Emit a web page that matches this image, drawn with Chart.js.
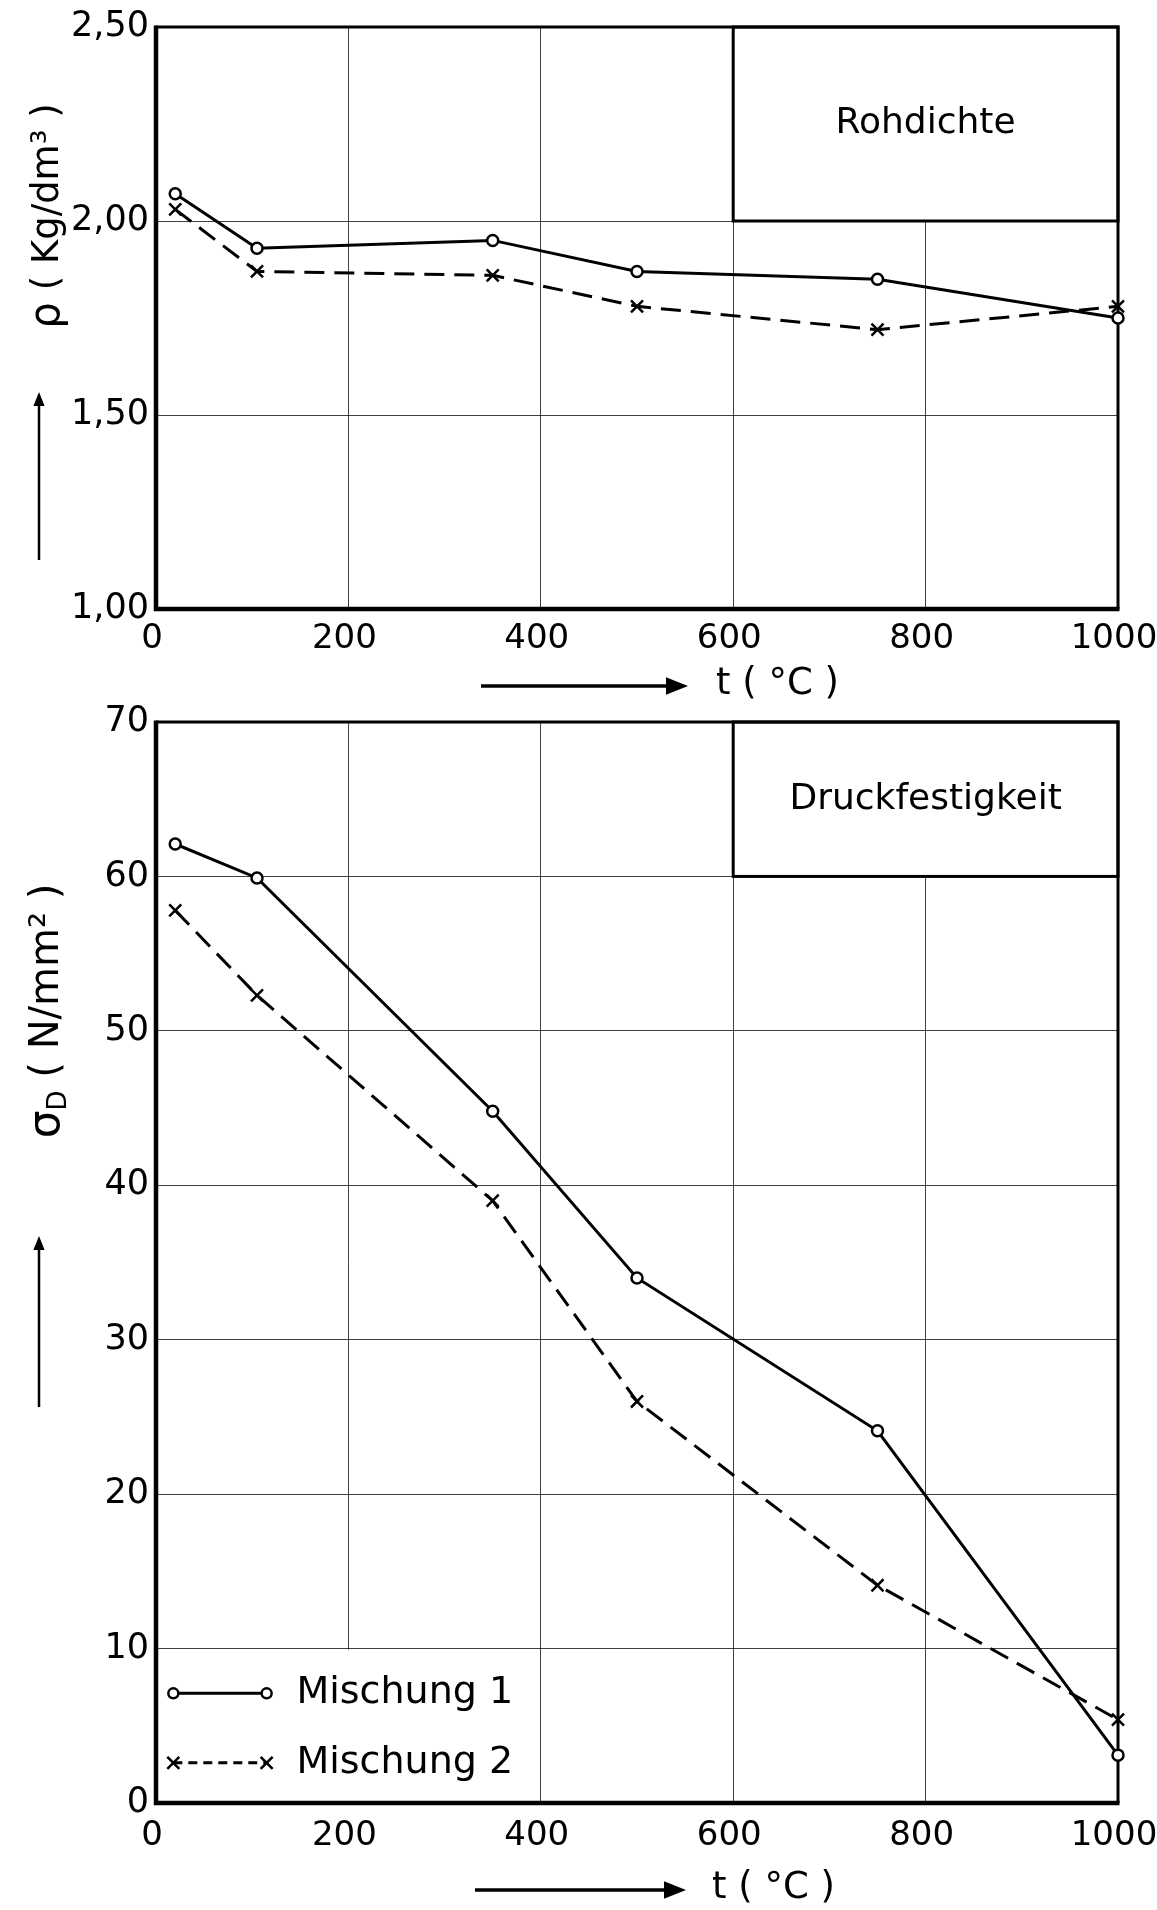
<!DOCTYPE html>
<html>
<head>
<meta charset="utf-8">
<title>Rohdichte und Druckfestigkeit</title>
<script src="https://cdn.jsdelivr.net/npm/chart.js@4.4.1/dist/chart.umd.min.js"></script>
<style>
  html, body { margin: 0; padding: 0; background: #fff; }
  body { position: relative; width: 1157px; height: 1910px; overflow: hidden; }
  canvas { position: absolute; left: 0; }
  #rohdichteChart { top: 0; }
  #festigkeitChart { top: 690px; }
</style>
</head>
<body>
<canvas id="rohdichteChart" width="1157" height="715"></canvas>
<canvas id="festigkeitChart" width="1157" height="1220"></canvas>
<script>
// Temperatures (°C) at which both mixes were tested
const temps = [20, 105, 350, 500, 750, 1000];

// Rohdichte in kg/dm3
const rohdichteM1 = [2.07, 1.93, 1.95, 1.87, 1.85, 1.75];
const rohdichteM2 = [2.03, 1.87, 1.86, 1.78, 1.72, 1.78];

// Druckfestigkeit in N/mm2
const festigkeitM1 = [62.1, 59.9, 44.8, 34.0, 24.1, 3.1];
const festigkeitM2 = [57.8, 52.3, 39.0, 26.0, 14.1, 5.4];

const seriesNames = ['Mischung 1', 'Mischung 2'];
const tempTicks = [0, 200, 400, 600, 800, 1000];
const rohdichteTicks = [1.0, 1.5, 2.0, 2.5];
const festigkeitTicks = [0, 10, 20, 30, 40, 50, 60, 70];

const FONT = '"DejaVu Sans", "Liberation Sans", sans-serif';
Chart.defaults.font.family = FONT;
Chart.defaults.color = '#000';

function toPoints(values) {
  return temps.map((t, i) => ({ x: t, y: values[i] }));
}

function datasetsFor(m1, m2) {
  return [
    {
      label: seriesNames[0],
      data: toPoints(m1),
      borderColor: '#000',
      borderWidth: 3,
      pointStyle: 'circle',
      pointRadius: 5.5,
      pointBackgroundColor: '#fff',
      pointBorderColor: '#000',
      pointBorderWidth: 2.5,
      clip: false
    },
    {
      label: seriesNames[1],
      data: toPoints(m2),
      borderColor: '#000',
      borderWidth: 3,
      borderDash: [20, 10],
      pointStyle: 'crossRot',
      pointRadius: 8.5,
      pointBorderColor: '#000',
      pointBorderWidth: 2.5,
      clip: false
    }
  ];
}

// arrow with a filled head at (x2, y2)
function arrow(ctx, x1, y1, x2, y2, width, head) {
  const ang = Math.atan2(y2 - y1, x2 - x1);
  ctx.save();
  ctx.strokeStyle = '#000';
  ctx.fillStyle = '#000';
  ctx.lineWidth = width;
  ctx.beginPath();
  ctx.moveTo(x1, y1);
  ctx.lineTo(x2 - head * Math.cos(ang), y2 - head * Math.sin(ang));
  ctx.stroke();
  ctx.translate(x2, y2);
  ctx.rotate(ang);
  ctx.beginPath();
  ctx.moveTo(0, 0);
  ctx.lineTo(-head, -head * 0.4);
  ctx.lineTo(-head, head * 0.4);
  ctx.closePath();
  ctx.fill();
  ctx.restore();
}

// draws rotated y title from a list of [text, size, baselineShift] pieces
function verticalTitle(ctx, cx, cy, pieces) {
  ctx.save();
  ctx.translate(cx, cy);
  ctx.rotate(-Math.PI / 2);
  ctx.fillStyle = '#000';
  ctx.textBaseline = 'middle';
  let total = 0;
  pieces.forEach(p => { ctx.font = p[1] + 'px ' + FONT; total += ctx.measureText(p[0]).width; });
  let x = -total / 2;
  pieces.forEach(p => {
    ctx.font = p[1] + 'px ' + FONT;
    ctx.fillText(p[0], x, p[2]);
    x += ctx.measureText(p[0]).width;
  });
  ctx.restore();
}

function decorPlugin(cfg) {
  return {
    id: 'decor',
    beforeDatasetsDraw(chart) {
      const ctx = chart.ctx;
      const xs = chart.scales.x, ys = chart.scales.y;
      ctx.save();
      // white area behind the legend
      if (cfg.legendArea) {
        const a = cfg.legendArea;
        ctx.fillStyle = '#fff';
        const l = xs.getPixelForValue(a[0]), r = xs.getPixelForValue(a[1]);
        const t = ys.getPixelForValue(a[3]), b = ys.getPixelForValue(a[2]);
        ctx.fillRect(l, t + 1, r - l, b - t - 1);
      }
      // title box in the upper right corner
      const bx = cfg.box;
      const l = xs.getPixelForValue(bx[0]), r = xs.getPixelForValue(bx[1]);
      const t = ys.getPixelForValue(bx[3]), b = ys.getPixelForValue(bx[2]);
      ctx.fillStyle = '#fff';
      ctx.fillRect(l, t, r - l, b - t);
      ctx.strokeStyle = '#000';
      ctx.lineWidth = 3;
      ctx.strokeRect(l, t, r - l, b - t);
      ctx.fillStyle = '#000';
      ctx.font = '36px ' + FONT;
      ctx.textAlign = 'center';
      ctx.textBaseline = 'middle';
      ctx.fillText(cfg.boxText, (l + r) / 2, (t + b) / 2);

      // plot frame: heavy axes on the left and bottom
      const ca = chart.chartArea;
      ctx.lineWidth = 3;
      ctx.beginPath();
      ctx.moveTo(ca.left, ca.top);
      ctx.lineTo(ca.right, ca.top);
      ctx.lineTo(ca.right, ca.bottom);
      ctx.stroke();
      ctx.lineWidth = 4.5;
      ctx.beginPath();
      ctx.moveTo(ca.left, ca.top - 1.5);
      ctx.lineTo(ca.left, ca.bottom);
      ctx.lineTo(ca.right + 1.5, ca.bottom);
      ctx.stroke();
      ctx.restore();
    },
    afterDraw(chart) {
      const ctx = chart.ctx;
      const xs = chart.scales.x, ys = chart.scales.y;
      ctx.save();
      // legend: marker line + label
      if (cfg.legend) {
        const lg = cfg.legend;
        const x0 = xs.getPixelForValue(lg.from), x1 = xs.getPixelForValue(lg.to);
        const tx = xs.getPixelForValue(lg.text);
        chart.data.datasets.forEach((ds, i) => {
          const y = ys.getPixelForValue(lg.rows[i]);
          ctx.strokeStyle = '#000';
          ctx.lineWidth = 3;
          ctx.setLineDash(i === 0 ? [] : [9, 6]);
          ctx.beginPath();
          ctx.moveTo(x0, y);
          ctx.lineTo(x1, y);
          ctx.stroke();
          ctx.setLineDash([]);
          [x0, x1].forEach(px => {
            ctx.lineWidth = 2.5;
            ctx.beginPath();
            if (i === 0) {
              ctx.fillStyle = '#fff';
              ctx.arc(px, y, 5, 0, Math.PI * 2);
              ctx.fill();
              ctx.stroke();
            } else {
              ctx.moveTo(px - 6, y - 6); ctx.lineTo(px + 6, y + 6);
              ctx.moveTo(px - 6, y + 6); ctx.lineTo(px + 6, y - 6);
              ctx.stroke();
            }
          });
          ctx.fillStyle = '#000';
          ctx.font = '38px ' + FONT;
          ctx.textAlign = 'left';
          ctx.textBaseline = 'middle';
          ctx.fillText(ds.label, tx, y);
        });
      }
      // axis titles with arrows
      verticalTitle(ctx, cfg.yTitlePos[0], cfg.yTitlePos[1], cfg.yTitle);
      const ya = cfg.yArrow;
      arrow(ctx, ya[0], ya[1], ya[0], ya[2], 2.5, 14);
      const xa = cfg.xArrow;
      arrow(ctx, xa[0], xa[2], xa[1], xa[2], 3.5, 22);
      ctx.fillStyle = '#000';
      ctx.font = '37px ' + FONT;
      ctx.textAlign = 'left';
      ctx.textBaseline = 'middle';
      ctx.fillText('t ( °C )', cfg.xTitlePos[0], cfg.xTitlePos[1]);
      ctx.restore();
    }
  };
}

function makeChart(id, m1, m2, yTicks, yFormat, axisHeight, padTop, labelPad, decor) {
  const ctx = document.getElementById(id).getContext('2d');
  return new Chart(ctx, {
    type: 'line',
    data: { datasets: datasetsFor(m1, m2) },
    options: {
      responsive: false,
      animation: false,
      layout: { padding: { left: 0, right: 39, top: padTop, bottom: 0 } },
      plugins: { legend: { display: false }, tooltip: { enabled: false } },
      scales: {
        x: {
          type: 'linear',
          min: tempTicks[0],
          max: tempTicks[tempTicks.length - 1],
          afterBuildTicks: s => { s.ticks = tempTicks.map(v => ({ value: v })); },
          afterFit: s => { s.height = axisHeight; s.paddingLeft = 0; s.paddingRight = 0; },
          grid: { color: 'rgba(0,0,0,0.75)', lineWidth: 1, drawTicks: false },
          border: { display: false },
          ticks: { font: { size: 34 }, padding: labelPad, labelOffset: -4, maxRotation: 0, autoSkip: false,
                   callback: v => String(v) }
        },
        y: {
          type: 'linear',
          min: yTicks[0],
          max: yTicks[yTicks.length - 1],
          afterBuildTicks: s => { s.ticks = yTicks.map(v => ({ value: v })); },
          afterFit: s => { s.width = 156; s.paddingTop = 0; s.paddingBottom = 0; },
          grid: { color: 'rgba(0,0,0,0.75)', lineWidth: 1, drawTicks: false },
          border: { display: false },
          ticks: { font: { size: 35 }, padding: 7, callback: yFormat }
        }
      }
    },
    plugins: [decorPlugin(decor)]
  });
}

makeChart('rohdichteChart', rohdichteM1, rohdichteM2, rohdichteTicks,
  v => v.toFixed(2).replace('.', ','), 106, 27, 10, {
    box: [600, 1000, 2.0, 2.5],
    boxText: 'Rohdichte',
    yTitle: [['ρ', 42, 0], [' ( Kg/dm³ )', 37, 0]],
    yTitlePos: [48, 216],
    yArrow: [39, 560, 392],
    xArrow: [481, 688, 686],
    xTitlePos: [716, 684]
  });

makeChart('festigkeitChart', festigkeitM1, festigkeitM2, festigkeitTicks,
  v => String(v), 107, 32, 13, {
    box: [600, 1000, 60, 70],
    boxText: 'Druckfestigkeit',
    legendArea: [0, 385, 0, 10],
    legend: { from: 18, to: 115, text: 146, rows: [7.1, 2.6] },
    yTitle: [['σ', 44, 0], ['D', 26, 11], [' ( N/mm² )', 40, 0]],
    yTitlePos: [48, 321],
    yArrow: [39, 717, 546],
    xArrow: [475, 686, 1200],
    xTitlePos: [712, 1198]
  });
</script>
</body>
</html>
